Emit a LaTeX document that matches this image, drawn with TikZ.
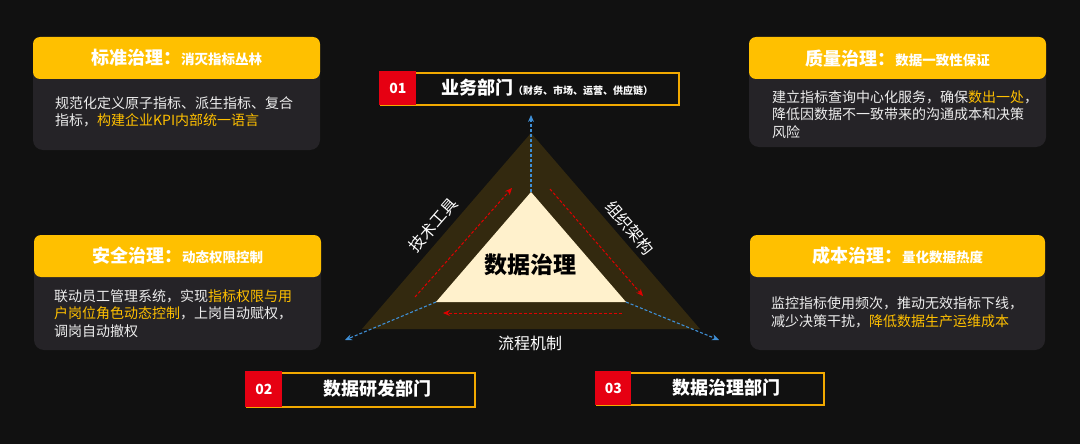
\documentclass[tikz,border=0pt]{standalone}
\usepackage{fontspec}
\setmainfont{Noto Sans CJK SC}
\usetikzlibrary{arrows.meta}
\definecolor{bg}{HTML}{111111}
\definecolor{cardgray}{HTML}{252327}
\definecolor{hdr}{HTML}{FFC000}
\definecolor{hl}{HTML}{FFC000}
\definecolor{bodytxt}{HTML}{EDEDED}
\definecolor{brownish}{HTML}{33290F}
\definecolor{cream}{HTML}{FFF1CC}
\definecolor{redbox}{HTML}{E60012}
\definecolor{frame}{HTML}{F2A900}
\definecolor{bluearrow}{HTML}{3F8FD6}
\definecolor{redarrow}{HTML}{E00000}
\newcommand{\hlt}[1]{\textcolor{hl}{#1}}
\begin{document}
\begin{tikzpicture}[x=1pt,y=-1pt,
  cardbox/.style={fill=cardgray, rounded corners=10pt, anchor=north west, inner sep=0pt, outer sep=0pt},
  hdrbox/.style={fill=hdr, rounded corners=7pt, anchor=north west, inner sep=0pt, outer sep=0pt},
  hdrtext/.style={text=white, inner sep=0pt},
  bodytext/.style={text=bodytxt, align=left, anchor=north west, inner sep=0pt, font=\fontsize{14}{17.5}\selectfont},
  deptframe/.style={draw=frame, line width=1.6pt, fill=bg, anchor=north west, inner sep=0pt},
  numcell/.style={fill=redbox, anchor=north west, inner sep=0pt},
  numtext/.style={text=white, font=\fontsize{14}{14}\selectfont\bfseries, inner sep=0pt},
  depttext/.style={text=white, font=\fontsize{18}{18}\selectfont\bfseries, inner sep=0pt},
  sidelabel/.style={text=white, font=\fontsize{16}{16}\selectfont, inner sep=0pt},
  bluedash/.style={draw=bluearrow, line width=1.1pt, dash pattern=on 3pt off 2pt, -{Stealth[length=7pt,width=6pt]}},
  reddash/.style={draw=redarrow, line width=1pt, dash pattern=on 3pt off 2pt, -{Stealth[length=7pt,width=6pt]}},
]
\useasboundingbox (0,0) rectangle (1080,444);
\fill[bg] (0,0) rectangle (1080,444);

% ---------- cards ----------
\newcommand{\hdrline}[2]{{\fontsize{18}{18}\selectfont\bfseries #1}{\fontsize{13.5}{14}\selectfont\bfseries #2}}
% card 1
\node[cardbox, minimum width=287pt, minimum height=113pt] (c1) at (33,37) {};
\node[hdrbox, minimum width=287pt, minimum height=42pt] (h1) at (33,37) {};
\node[hdrtext] (t1) at (176.5,58) {\hdrline{标准治理：}{消灭指标丛林}};
\node[bodytext] (b1) at (55,96) {规范化定义原子指标、派生指标、复合\\指标，\hlt{构建企业KPI内部统一语言}};
% card 2
\node[cardbox, minimum width=297pt, minimum height=110pt] (c2) at (749,37) {};
\node[hdrbox, minimum width=297pt, minimum height=42pt] (h2) at (749,37) {};
\node[hdrtext] (t2) at (897.5,59) {\hdrline{质量治理：}{数据一致性保证}};
\node[bodytext] (b2) at (772,90) {建立指标查询中心化服务，确保\hlt{数出一处}，\\降低因数据不一致带来的沟通成本和决策\\风险};
% card 3
\node[cardbox, minimum width=287pt, minimum height=115pt] (c3) at (34,235) {};
\node[hdrbox, minimum width=287pt, minimum height=42pt] (h3) at (34,235) {};
\node[hdrtext] (t3) at (177.5,256) {\hdrline{安全治理：}{动态权限控制}};
\node[bodytext] (b3) at (54,289) {联动员工管理系统，实现\hlt{指标权限与用}\\\hlt{户岗位角色动态控制}，上岗自动赋权，\\调岗自动撤权};
% card 4
\node[cardbox, minimum width=295pt, minimum height=115pt] (c4) at (750,235) {};
\node[hdrbox, minimum width=295pt, minimum height=42pt] (h4) at (750,235) {};
\node[hdrtext] (t4) at (897.5,256) {\hdrline{成本治理：}{量化数据热度}};
\node[bodytext] (b4) at (771,297) {监控指标使用频次，推动无效指标下线，\\减少决策干扰，\hlt{降低数据生产运维成本}};

% ---------- department boxes ----------
\node[deptframe, minimum width=298pt, minimum height=32pt] (d1) at (380,72) {};
\node[numcell, minimum width=37pt, minimum height=33.6pt] (n1) at (379.2,71.2) {};
\node[numtext] at (n1.center) {01};
\node[text=white, inner sep=0pt] (dt1) at (547,88) {{\fontsize{18}{18}\selectfont\bfseries 业务部门}{\fontsize{10}{10}\selectfont\bfseries （财务、市场、运营、供应链）}};

\node[deptframe, minimum width=228pt, minimum height=34pt] (d2) at (246,372) {};
\node[numcell, minimum width=37pt, minimum height=35.6pt] (n2) at (245.2,371.2) {};
\node[numtext] at (n2.center) {02};
\node[depttext] (dt2) at (377,389) {数据研发部门};

\node[deptframe, minimum width=227pt, minimum height=32pt] (d3) at (596,372) {};
\node[numcell, minimum width=36pt, minimum height=33.6pt] (n3) at (595.2,371.2) {};
\node[numtext] at (n3.center) {03};
\node[depttext] (dt3) at (726,388) {数据治理部门};

% ---------- triangle ----------
\coordinate (oA) at (531,133);
\coordinate (oL) at (362,329);
\coordinate (oR) at (700,329);
\coordinate (iA) at (531,192);
\coordinate (iL) at (436,302);
\coordinate (iR) at (626,302);
\fill[brownish] (oA) -- (oL) -- (oR) -- cycle;
\fill[cream] (iA) -- (iL) -- (iR) -- cycle;

\coordinate (bT) at (531,115);
\coordinate (bL) at (345,340);
\coordinate (bR) at (719,340);
\draw[bluedash] (iA) -- (bT);
\draw[bluedash] (iL) -- (bL);
\draw[bluedash] (iR) -- (bR);

\coordinate (rL1) at (415,297);
\coordinate (rL2) at (512,188);
\coordinate (rR1) at (550,189);
\coordinate (rR2) at (643,296);
\coordinate (rB1) at (622,313);
\coordinate (rB2) at (443,313);
\draw[reddash] (rL1) -- (rL2);
\draw[reddash] (rR1) -- (rR2);
\draw[reddash] (rB1) -- (rB2);

\node[text=black, font=\fontsize{23}{23}\selectfont\bfseries, inner sep=0pt] (center) at (530,265) {数据治理};
\node[sidelabel, rotate=49] (lt) at (433,225) {技术工具};
\node[sidelabel, rotate=-49] (lo) at (630,228) {组织架构};
\node[sidelabel] (lp) at (530,343) {流程机制};
\end{tikzpicture}
\end{document}
